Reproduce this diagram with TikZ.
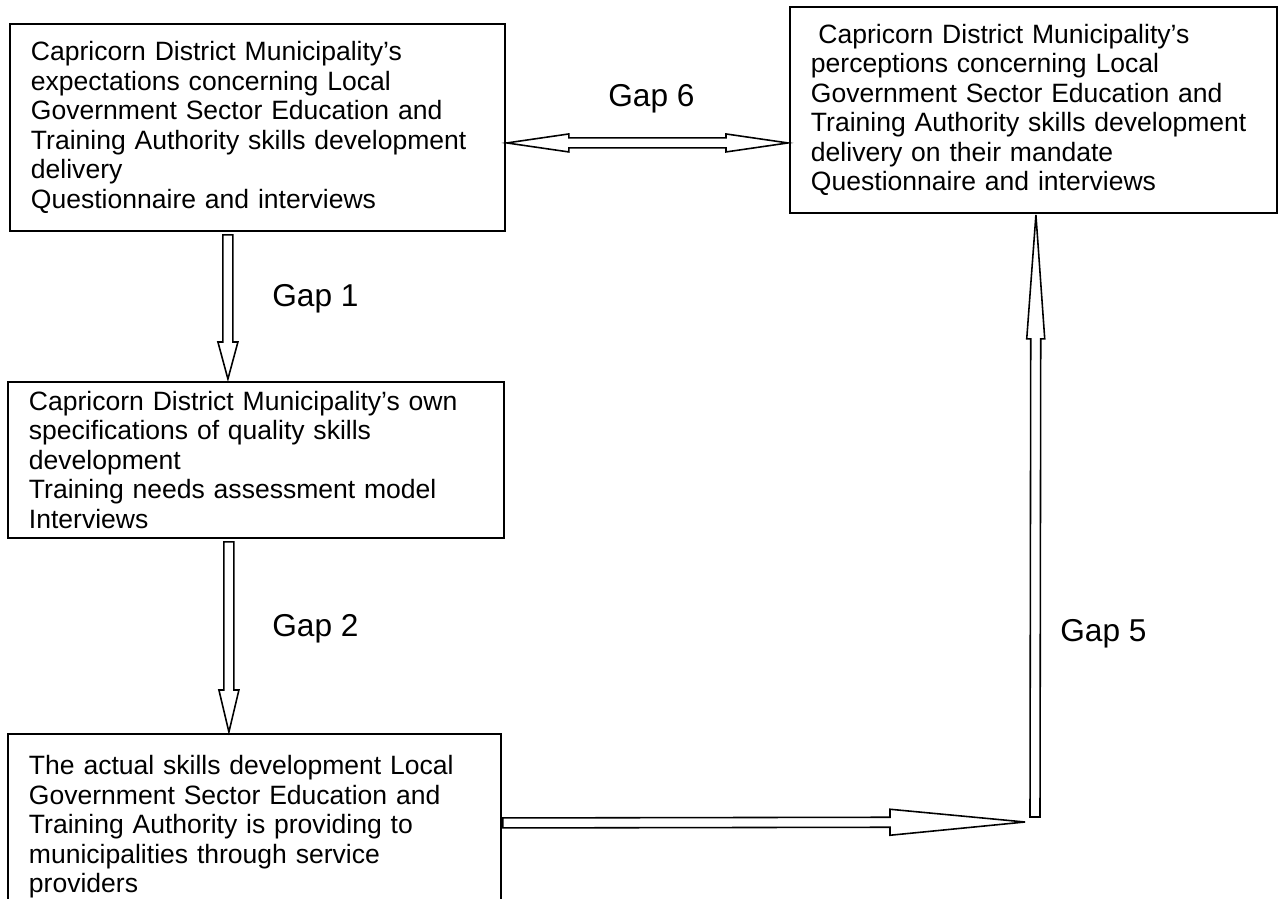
\documentclass[tikz,border=0pt]{standalone}
\usepackage{fontspec}
\setmainfont{Liberation Sans}
\usetikzlibrary{calc}

\newcommand{\gpx}{0.02cm}
\newcommand{\gshaft}{0.1cm}
% hollow block arrow: from, tip, head length, head half width (px)
\newcommand{\gaparrow}[4]{%
    \coordinate (hb) at ($(#2)!#3*\gpx!(#1)$);
    \draw[gap shape] ($(#1)!\gshaft!90:(#2)$) -- ($(hb)!\gshaft!90:(#2)$)
    -- ($(hb)!#4*\gpx!90:(#2)$) -- (#2) -- ($(hb)!#4*\gpx!-90:(#2)$)
    -- ($(hb)!\gshaft!-90:(#2)$) -- ($(#1)!\gshaft!-90:(#2)$) -- cycle;
}
% the same with two heads
\newcommand{\gapdarrow}[4]{%
    \coordinate (ha) at ($(#1)!#3*\gpx!(#2)$);
    \coordinate (hb) at ($(#2)!#3*\gpx!(#1)$);
    \draw[gap shape] (#1) -- ($(ha)!#4*\gpx!90:(#2)$) -- ($(ha)!\gshaft!90:(#2)$)
    -- ($(hb)!\gshaft!90:(#2)$) -- ($(hb)!#4*\gpx!90:(#2)$) -- (#2)
    -- ($(hb)!#4*\gpx!-90:(#2)$) -- ($(hb)!\gshaft!-90:(#2)$)
    -- ($(ha)!\gshaft!-90:(#2)$) -- ($(ha)!#4*\gpx!-90:(#2)$) -- cycle;
}

\tikzset{
    box/.style={draw, line width=1.1pt, anchor=north west, align=left,
        inner xsep=0.42cm, inner ysep=0pt,
        font=\fontsize{15.1pt}{16.8pt}\selectfont},
    gaptext/.style={anchor=base west, inner sep=0pt,
        font=\fontsize{18pt}{20pt}\selectfont},
    gap shape/.style={draw, line width=0.9pt, fill=white}
}

\begin{document}
\begin{tikzpicture}[x=0.02cm, y=-0.02cm]
    \useasboundingbox (0,0) rectangle (1278,899);

    % boxes
    \node[box, text width=9.06cm, minimum height=4.14cm] (expect) at (9,23)
    {Capricorn District Municipality’s\\
     expectations concerning Local\\
     Government Sector Education and\\
     Training Authority skills development\\
     delivery\\
     Questionnaire and interviews};
    \node[box, text width=8.9cm, minimum height=4.12cm] (percept) at (789,6)
    {\hspace*{.28em}Capricorn District Municipality’s\\
     perceptions concerning Local\\
     Government Sector Education and\\
     Training Authority skills development\\
     delivery on their mandate\\
     Questionnaire and interviews};
    \node[box, text width=9.08cm, minimum height=3.12cm] (own) at (7,381)
    {Capricorn District Municipality’s own\\
     specifications of quality skills\\
     development\\
     Training needs assessment model\\
     Interviews};
    \node[box, text width=9.02cm, minimum height=3.72cm] (actual) at (7,733)
    {The actual skills development Local\\
     Government Sector Education and\\
     Training Authority is providing to\\
     municipalities through service\\
     providers};

    % gap labels
    \node[gaptext] (gap6) at (608,106) {Gap 6};
    \node[gaptext] (gap1) at (272,306) {Gap 1};
    \node[gaptext] (gap2) at (272,636) {Gap 2};
    \node[gaptext] (gap5) at (1060,641) {Gap 5};

    % arrows
    \coordinate (g1a) at ($(expect.south)+(-29.5,3)$);
    \coordinate (g1b) at ($(own.north)+(-28,-2)$);
    \gaparrow{g1a}{g1b}{37}{10}

    \coordinate (g2a) at ($(own.south)+(-27,3)$);
    \coordinate (g2b) at ($(actual.north)+(-25.5,-1)$);
    \gaparrow{g2a}{g2b}{42}{10}

    \coordinate (g4a) at ($(actual.east)+(1,-4)$);
    \coordinate (g4b) at (1025,822);
    \gaparrow{g4a}{g4b}{135}{13}

    \coordinate (g5a) at (1035,817);
    \coordinate (g5b) at ($(percept.south)+(2.5,1)$);
    \gaparrow{g5a}{g5b}{124}{9}

    \coordinate (g6a) at ($(expect.east)+(1,15.5)$);
    \coordinate (g6b) at ($(percept.west)+(-1,33)$);
    \gapdarrow{g6a}{g6b}{62}{9}
\end{tikzpicture}
\end{document}
